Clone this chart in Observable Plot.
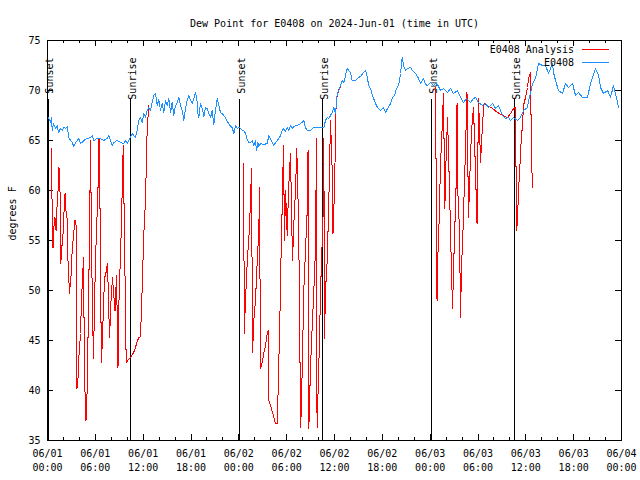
<!DOCTYPE html>
<html>
<head>
<meta charset="utf-8">
<script src="https://cdn.jsdelivr.net/npm/d3@7"></script>
<script src="https://cdn.jsdelivr.net/npm/@observablehq/plot@0.6"></script>
<style>html,body{margin:0;padding:0;background:#fff;}</style>
</head>
<body>
<div id="chart"></div>
<script>
const title = "Dew Point for E0408 on 2024-Jun-01 (time in UTC)";
const yLabel = "degrees F";
const seriesNames = ["E0408 Analysis", "E0408"];
const seriesColors = ["#ff0000", "#1e90ff"];
const startUTC = Date.UTC(2024, 5, 1);

// Observation (hours since 06/01 00:00 UTC, deg F)
const obsHours = [
  0.00,0.13,0.38,0.50,0.59,0.75,1.00,1.22,1.38,1.63,
  1.84,2.04,2.26,2.47,2.67,2.89,3.10,3.30,3.51,3.73,
  3.93,4.14,4.35,4.55,4.98,5.39,5.61,5.81,6.23,6.65,
  7.06,7.49,7.69,8.12,8.32,8.74,9.16,9.57,9.78,10.00,
  10.20,10.41,10.62,10.83,11.04,11.25,11.45,11.67,11.88,12.08,
  12.29,12.51,12.71,12.92,13.13,13.33,13.55,13.76,13.96,14.17,
  14.39,14.59,14.80,15.01,15.22,15.43,15.64,15.84,16.06,16.27,
  16.47,16.68,16.90,17.10,17.31,17.52,17.72,17.94,18.15,18.35,
  18.57,18.78,18.85,18.98,19.19,19.41,19.61,19.82,20.03,20.23,
  20.45,20.66,20.86,21.07,21.29,21.49,21.70,21.91,22.12,22.33,
  22.54,22.74,22.96,23.17,23.37,23.58,23.80,24.00,24.21,24.42,
  24.62,24.84,25.05,25.25,25.46,25.68,25.88,26.09,26.22,26.38,
  26.51,26.72,27.13,27.56,27.76,27.97,28.39,28.60,28.81,29.01,
  29.23,29.44,29.64,29.86,30.07,30.27,30.48,30.70,30.90,31.11,
  31.32,31.74,31.95,32.15,32.36,32.58,32.99,33.41,33.83,34.25,
  34.66,34.87,35.09,35.29,35.50,35.71,35.91,36.13,36.34,36.54,
  36.75,36.97,37.17,37.38,37.59,37.80,38.01,38.22,38.64,39.05,
  39.26,39.64,39.89,40.14,40.27,40.52,40.77,41.14,41.40,41.77,
  42.15,42.40,42.65,43.03,43.28,43.53,43.78,44.03,44.28,44.49,
  44.66,44.91,45.16,45.54,45.79,46.16,46.54,46.79,47.17,47.42,
  47.67,48.04,48.42,48.67,48.92,49.30,49.67,50.18,50.55,50.93,
  51.43,51.81,52.18,52.56,53.06,53.44,53.69,54.06,54.56,54.94,
  55.32,55.82,56.20,56.57,57.08,57.46,57.83,58.08,58.46,58.96,
  59.33,59.71,60.21,60.34,60.59,60.84,61.21,61.59,62.09,62.47,
  62.85,63.35,63.47,63.72,64.10,64.60,64.98,65.35,65.86,66.23,
  66.61,67.11,67.74,68.11,68.74,69.12,69.37,69.74,70.25,70.62,
  71.00,71.50,71.62
];
const obsValues = [
  67,67.3,66.8,67.3,66,66.7,66.2,66.5,65.8,66.2,
  66,66.3,66.2,66.4,65.3,65,64.8,64.4,64.8,65,
  65.2,64.7,64.8,65,65.2,65.3,65.5,65,65.2,65.2,
  65,65.2,65.5,64.5,64.8,65,64.8,64.7,65,64.7,
  65,65.3,65.7,65.5,65.3,66,67,67.3,66.8,67.7,
  67.3,68,68.3,68,68.8,69.5,69.7,68.5,69.1,68,
  68.7,67.8,69,68.5,69.2,67.8,68.8,67.5,68.5,68.8,
  69.3,68.5,68,67,68.2,69,69.5,69,68.7,69.2,
  69.8,68.8,67.7,67.3,68.7,68.2,67.4,68.3,68.2,67.7,
  67.3,68,66.6,68,69.2,68.5,67.8,67.7,67.5,67.3,
  66.9,66.7,66.4,66.3,65.7,66.5,66.2,66.3,66.2,66,
  66,65.7,65.1,64.8,64.8,65,64.5,65,64,64.8,
  64.4,64.7,64.6,64.7,65.5,65.2,64.5,64.8,65,65.2,
  65.5,66,66.2,65.9,66.3,66,66.5,66.2,66.4,66.5,
  66.5,66.7,66.8,67,66.3,66,66,66.3,66.3,66.3,
  66.3,67,67.3,67.2,67.5,67.8,68.3,67.7,69.7,70,
  70.5,71,70.8,71.5,72.2,72,71.8,71,71,71.3,
  71.4,71.8,72,71.3,70.5,70.2,69.5,68.7,68.3,68,
  68.3,67.8,68.2,68.7,69.3,69.5,70.2,70.5,71.7,73.3,
  72.5,72,72.2,72.3,72,71.7,71.2,70.7,71.2,70.6,
  70.5,70.8,70.5,70.7,70.6,70,70.2,69.8,70.2,69.7,
  70,69.3,68.8,69.2,68.8,69.2,69.3,68.8,68.5,68.7,
  68.3,68.7,68.2,68.5,67.5,67.2,67.3,67,67.3,67,
  67.3,68,68.3,69,69.7,70.7,71.2,72.7,72.5,72.5,
  71.7,72.7,71.8,71,70,69.7,70.7,70.3,70.7,69.5,
  69.8,69.3,69.3,70.7,72.2,71.5,70.3,69.7,70,69.3,
  70.5,68.8,68.3
];

// Analysis (hours since 06/01 00:00 UTC, deg F); null = no data (gap)
const anaHours = [
  0.44,0.50,0.69,0.82,0.94,1.07,1.19,1.32,1.44,1.57,
  1.67,1.82,1.94,2.07,2.20,2.32,2.45,2.57,2.76,2.95,
  3.10,3.26,3.45,3.58,3.70,3.83,3.95,4.14,4.26,4.39,
  4.52,4.64,4.83,4.95,5.06,5.14,5.23,5.31,5.39,5.52,
  5.64,5.77,5.90,6.02,6.15,6.33,6.46,6.59,6.69,6.77,
  6.90,7.02,7.15,7.34,7.53,7.65,7.78,7.97,8.15,8.34,
  8.47,8.66,8.84,8.97,9.09,9.24,9.37,9.50,9.66,9.78,
  9.87,10.16,10.41,10.66,10.91,11.10,11.29,11.48,11.67,11.79,
  11.92,12.04,12.29,12.51,12.71,
  18.00,
  24.62,24.67,24.84,25.00,25.15,25.34,25.46,25.59,25.72,25.88,
  26.09,26.31,26.51,26.59,26.72,26.93,27.13,27.34,27.56,27.68,
  27.76,27.97,28.19,28.39,28.60,28.81,28.89,29.01,29.14,29.23,
  29.32,29.44,29.60,29.73,29.86,30.07,30.23,30.48,30.61,30.73,
  30.92,31.11,31.27,31.49,31.61,31.74,31.86,31.95,32.05,32.15,
  32.36,32.58,32.68,32.78,32.99,33.20,33.41,33.62,33.74,33.81,
  34.03,34.16,34.25,34.46,34.59,34.66,34.75,34.87,35.09,35.29,
  35.50,35.71,35.81,36.00,36.21,36.50,36.75,
  42.00,
  48.67,48.86,48.99,49.11,49.30,49.49,49.67,49.84,49.99,50.18,
  50.43,50.61,50.80,50.99,51.12,51.24,51.37,51.49,51.68,51.81,
  51.93,52.12,52.25,52.43,52.62,52.81,53.00,53.19,53.44,53.88,
  54.07,54.32,54.57,54.76,55.07,55.45,55.82,56.45,57.08,57.71,
  58.08,58.46,58.71,58.83,58.96,59.08,59.21,59.42,59.59,59.71,
  59.96,60.21,60.34,60.59,60.71,60.84
];
const anaValues = [
  64.2,61.7,54.3,56.5,57.3,56.0,58.3,60,62.3,59.8,
  52.7,54.5,55.5,57.8,59.7,58,57.2,53,49.7,51.5,
  54,55.5,57,56.5,40.2,41.3,43.5,45.7,49,51.2,
  53.3,41.3,37,39.3,44,48.7,53.3,58,65,55,
  48,43.2,48.7,53,56,60,65.2,58,48.3,42.8,
  45.3,48.3,51.2,51.8,52.7,49,45.3,49,51.3,49.3,
  48,51.5,42.3,49,52,55.7,60,64.5,55,48.3,
  42.8,43.1,43.3,43.6,44.0,44.5,45.0,45.3,45.4,48.3,
  51.1,55,59,66.3,68.5,
  null,
  62.7,45.7,49,52,54,56.3,59,62.2,43.8,47,
  49,53,56,60.3,42.2,42.8,43.7,44.5,45.7,46,
  39,38.5,37.9,37.3,36.7,36.7,38.7,42.7,46.7,50.7,
  54.5,58.3,64.5,55,60,55.5,60,63.7,58,53,
  57,60,64.2,57,49,36.3,38.3,42.3,46,50,
  54,58,64,36.2,42.3,46.3,50,54.3,65.2,36.3,
  42.3,46.7,50,55,58,65.2,45.2,50,53,59,
  67,62,55.7,60,69,70,70.4,
  null,
  70.3,49,54,56.7,62.7,66,69.7,58.2,63,67.3,
  60,54,48.2,53.7,57,60,68.7,59.5,56,47.3,
  52.3,56,59.5,64,69.8,57.3,62,66,68.3,56.7,
  69.2,62.8,66.7,68.7,68.5,68.4,68.2,67.8,67.5,67.3,
  67.7,68.2,68.3,56,57,60,61.7,65,66.7,68.5,
  69.3,70.3,71.2,71.8,63.3,60.3
];

// Sun events (hours since 06/01 00:00 UTC)
const sunHours = [0.07, 10.45, 24.1, 34.52, 48.18, 58.6];
const sunLabels = ["Sunset", "Sunrise", "Sunset", "Sunrise", "Sunset", "Sunrise"];

// Axis ticks
const yTicks = [35, 40, 45, 50, 55, 60, 65, 70, 75];
const xLabelHours = [0, 6, 12, 18, 24, 30, 36, 42, 48, 54, 60, 66, 72];
const xMinorHours = [2, 4, 8, 10, 14, 16, 20, 22, 26, 28, 32, 34, 38, 40, 44, 46, 50, 52, 56, 58, 62, 64, 68, 70];

const FONT = "'DejaVu Sans Mono', 'Liberation Mono', monospace";
const toDate = h => new Date(startUTC + h * 3600000);

const obs = obsHours.map((h, i) => ({t: toDate(h), v: obsValues[i]}));
const ana = anaHours.map((h, i) => ({t: toDate(h), v: anaValues[i]}));
const sun = sunHours.map((h, i) => ({t: toDate(h), label: sunLabels[i]}));
const majorDates = xLabelHours.map(toDate);
const minorDates = xMinorHours.map(toDate);

const W = 640, H = 480, ML = 47, MR = 19, MT = 40, MB = 40;
const FW = W - ML - MR, FH = H - MT - MB;

function legend(index, scales, values, dims) {
  const g = d3.create("svg:g").attr("font-family", FONT).attr("font-size", 10);
  const xr = W - MR;
  seriesNames.forEach((name, i) => {
    const y = MT + 9.5 + i * 13;
    g.append("text").attr("x", xr - 47).attr("y", y + 0.5).attr("dy", "0.32em")
      .attr("text-anchor", "end").attr("fill", "black").text(name);
    g.append("line").attr("x1", xr - 39).attr("x2", xr - 12).attr("y1", y).attr("y2", y)
      .attr("stroke", seriesColors[i]).attr("stroke-width", 1).attr("shape-rendering", "crispEdges");
  });
  return g.node();
}

const chart = Plot.plot({
  width: W, height: H,
  marginLeft: ML, marginRight: MR, marginTop: MT, marginBottom: MB,
  style: {fontFamily: FONT, fontSize: "10px", background: "white", color: "black", overflow: "visible"},
  x: {type: "utc", domain: [toDate(0), toDate(72)]},
  y: {type: "linear", domain: [35, 75]},
  marks: [
    Plot.axisX(majorDates, {anchor: "bottom", tickSize: 0, tickPadding: 9, label: null,
      tickFormat: d3.utcFormat("%m/%d"), fontSize: 10}),
    Plot.axisX(majorDates, {anchor: "bottom", tickSize: 0, tickPadding: 23, label: null,
      tickFormat: d3.utcFormat("%H:%M"), fontSize: 10}),
    Plot.axisY(yTicks, {anchor: "left", tickSize: 0, tickPadding: 7, label: null, fontSize: 10}),
    Plot.tickX(majorDates, {x: d => d, insetTop: FH - 6, stroke: "black", shapeRendering: "crispEdges"}),
    Plot.tickX(majorDates, {x: d => d, insetBottom: FH - 6, stroke: "black", shapeRendering: "crispEdges"}),
    Plot.tickX(minorDates, {x: d => d, insetTop: FH - 3, stroke: "black", shapeRendering: "crispEdges"}),
    Plot.tickX(minorDates, {x: d => d, insetBottom: FH - 3, stroke: "black", shapeRendering: "crispEdges"}),
    Plot.tickY(yTicks, {y: d => d, insetRight: FW - 6, stroke: "black", shapeRendering: "crispEdges"}),
    Plot.tickY(yTicks, {y: d => d, insetLeft: FW - 6, stroke: "black", shapeRendering: "crispEdges"}),
    Plot.ruleX(sun, {x: "t", insetTop: 59, stroke: "black", strokeWidth: 1, shapeRendering: "crispEdges"}),
    Plot.text(sun, {x: "t", text: "label", frameAnchor: "top", rotate: -90, textAnchor: "end",
      dy: 17, dx: -2, fill: "black", fontSize: 10}),
    Plot.line(ana, {x: "t", y: "v", stroke: seriesColors[0], strokeWidth: 1,
      strokeLinejoin: "miter", shapeRendering: "crispEdges"}),
    Plot.line(obs, {x: "t", y: "v", stroke: seriesColors[1], strokeWidth: 1,
      strokeLinejoin: "miter", shapeRendering: "crispEdges"}),
    Plot.frame({stroke: "black", strokeWidth: 1, shapeRendering: "crispEdges"}),
    Plot.text([title], {text: d => d, frameAnchor: "top", dy: -21, fill: "black", fontSize: 10}),
    Plot.text([yLabel], {text: d => d, frameAnchor: "left", dx: -35, rotate: -90, fill: "black", fontSize: 10}),
    legend
  ]
});
document.getElementById("chart").appendChild(chart);
</script>
</body>
</html>
